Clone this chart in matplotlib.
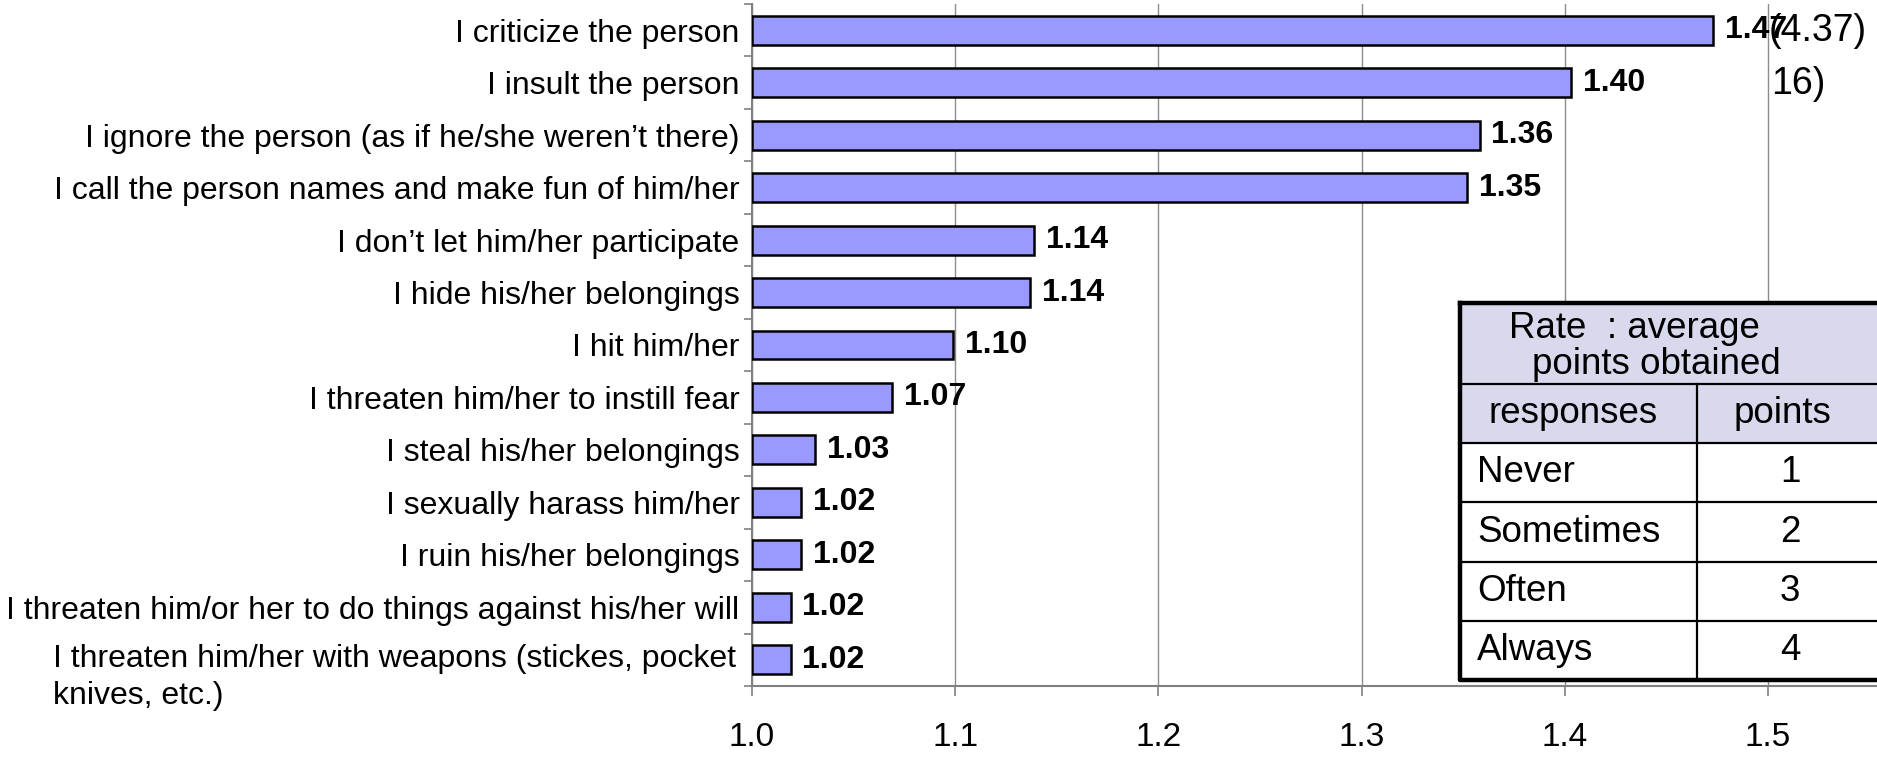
import matplotlib
matplotlib.use("Agg")
import matplotlib.pyplot as plt
from matplotlib.patches import Rectangle
from matplotlib.lines import Line2D
from matplotlib.ticker import FixedLocator

plt.rcParams['font.family'] = ['Liberation Sans', 'DejaVu Sans']

# behaviours, top to bottom, with the average points obtained
behaviours = [
    "I criticize the person",
    "I insult the person",
    "I ignore the person (as if he/she weren\u2019t there)",
    "I call the person names and make fun of him/her",
    "I don\u2019t let him/her participate",
    "I hide his/her belongings",
    "I hit him/her",
    "I threaten him/her to instill fear",
    "I steal his/her belongings",
    "I sexually harass him/her",
    "I ruin his/her belongings",
    "I threaten him/or her to do things against his/her will",
    "I threaten him/her with weapons (stickes, pocket\nknives, etc.)",
]
scores = [1.473, 1.403, 1.358, 1.352, 1.139, 1.137, 1.099,
          1.069, 1.031, 1.024, 1.024, 1.019, 1.019]
x_ticks = [1.0, 1.1, 1.2, 1.3, 1.4, 1.5]

# rating table
table_title = ["Rate  : average", "points obtained"]
responses = ["Never", "Sometimes", "Often", "Always"]
points = [1, 2, 3, 4]

# leftover text fragments in the top right corner
stray_texts = ["(4.37)", "16)"]

W, H = 1877, 759
fig = plt.figure(figsize=(W / 100, H / 100), dpi=100)
ax = fig.add_axes([752 / W, 73 / H, 1125 / W, 682 / H])

n = len(behaviours)
ypos = list(range(n))
ax.barh(ypos, [s - 1.0 for s in scores], left=1.0, height=0.55,
        color='#9999FF', edgecolor='black', linewidth=1.8, zorder=3)

for y, s in zip(ypos, scores):
    ax.annotate(f"{s:.2f}", (s, y), xytext=(8.5, 0), textcoords='offset points',
                va='center', ha='left', fontsize=23, fontweight='bold', zorder=4)

ax.set_xlim(1.0, 1.5536)
ax.set_ylim(n - 0.5, -0.5)

# y axis: labels at bar centres, tick marks at category boundaries
label_size = 23
ax.set_yticks(ypos)
ylabels = [b if "\n" not in b else "" for b in behaviours]
ax.set_yticklabels(ylabels, fontsize=label_size)
ax.tick_params(axis='y', which='major', length=0, pad=9)
ax.yaxis.set_minor_locator(FixedLocator([i - 0.5 for i in range(n + 1)]))
ax.tick_params(axis='y', which='minor', length=6, width=1.2, color='#808080', direction='out')

# the two-line label: first line level with its bar, second line hanging below
for y, b in zip(ypos, behaviours):
    if "\n" in b:
        ax.text(-0.014, y - 0.3, b, transform=ax.get_yaxis_transform(),
                ha='right', va='top', multialignment='left', linespacing=1.3,
                fontsize=label_size)

ax.set_xticks(x_ticks)
ax.set_xticklabels([f"{t:.1f}" for t in x_ticks], fontsize=24)
ax.tick_params(axis='x', length=7, width=1.2, color='#808080', direction='out', pad=19)

ax.grid(axis='x', color='#8C8C8C', linewidth=1.0, zorder=0)
ax.set_axisbelow(True)
for side in ['top', 'right']:
    ax.spines[side].set_visible(False)
for side in ['left', 'bottom']:
    ax.spines[side].set_color('#808080')
    ax.spines[side].set_linewidth(1.5)


# rating table drawn in pixel coordinates of the figure
def fx(x):
    return x / W


def fy(y):
    return 1 - y / H


t_left, t_right, t_top, t_bot = 1460, 1905, 303, 680
col_x = 1697
row_lines = [384, 443, 502, 562, 621]
row_bounds = row_lines[1:] + [t_bot]

fig.add_artist(Rectangle((fx(t_left), fy(443)), fx(t_right) - fx(t_left), fy(t_top) - fy(443),
                         transform=fig.transFigure, facecolor='#D9D9EE', edgecolor='none', zorder=5))
fig.add_artist(Rectangle((fx(t_left), fy(t_bot)), fx(t_right) - fx(t_left), fy(443) - fy(t_bot),
                         transform=fig.transFigure, facecolor='white', edgecolor='none', zorder=5))
for yl in row_lines:
    fig.add_artist(Line2D([fx(t_left), fx(t_right)], [fy(yl), fy(yl)], transform=fig.transFigure,
                          color='black', linewidth=1.6, zorder=6))
fig.add_artist(Line2D([fx(col_x), fx(col_x)], [fy(384), fy(t_bot)], transform=fig.transFigure,
                      color='black', linewidth=1.6, zorder=6))
fig.add_artist(Line2D([fx(t_left), fx(t_left), fx(t_right)], [fy(t_top), fy(t_bot), fy(t_bot)],
                      transform=fig.transFigure, color='black', linewidth=3.2, zorder=7))
fig.add_artist(Line2D([fx(t_left), fx(t_right)], [fy(t_top), fy(t_top)],
                      transform=fig.transFigure, color='black', linewidth=3.2, zorder=7))

fig.text(fx(1634), fy(329), table_title[0], ha='center', va='center', fontsize=26.5, zorder=8)
fig.text(fx(1656), fy(364), table_title[1], ha='center', va='center', fontsize=26.5, zorder=8)
fig.text(fx(1573), fy(414), "responses", ha='center', va='center', fontsize=26.5, zorder=8)
fig.text(fx(1783), fy(414), "points", ha='center', va='center', fontsize=26.5, zorder=8)
for i, (r, p) in enumerate(zip(responses, points)):
    yc = (row_lines[i + 1] + row_bounds[i + 1]) / 2
    fig.text(fx(1477), fy(yc), r, ha='left', va='center', fontsize=26.5, zorder=8)
    fig.text(fx(1790), fy(yc), str(p), ha='center', va='center', fontsize=26.5, zorder=8)

fig.text(fx(1769), fy(31), stray_texts[0], ha='left', va='center', fontsize=27, zorder=8)
fig.text(fx(1771), fy(84), stray_texts[1], ha='left', va='center', fontsize=27, zorder=8)

fig.savefig("out.png", dpi=100)
